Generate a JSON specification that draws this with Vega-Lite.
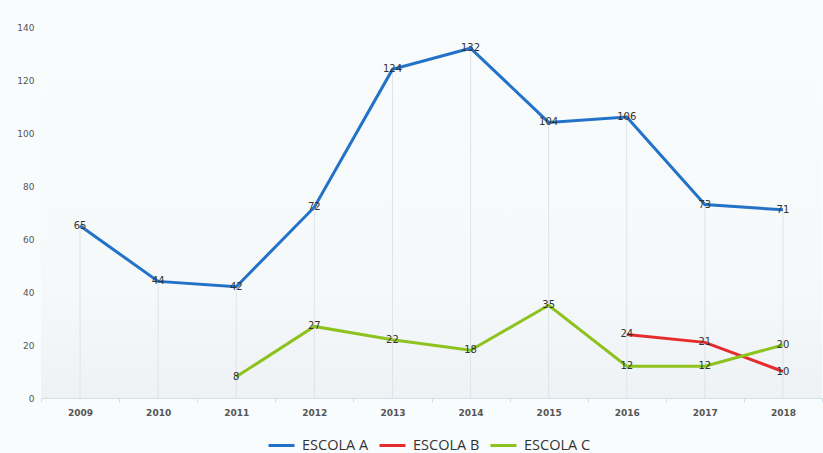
{
  "$schema": "https://vega.github.io/schema/vega-lite/v6.json",
  "autosize": {"type": "none"},
  "width": 781,
  "height": 371,
  "padding": {"left": 41, "top": 27, "right": 1, "bottom": 55},
  "background": "#f9fcfd",
  "config": {
    "view": {"stroke": null, "fill": {"gradient": "linear", "x1": 0, "y1": 0, "x2": 0, "y2": 1, "stops": [{"offset": 0, "color": "#f9fcfd"}, {"offset": 0.7, "color": "#f6f9fa"}, {"offset": 1, "color": "#eef2f5"}]}},
    "font": "DejaVu Sans"
  },
  "data": {
    "values": [
      {"ano": "2009", "escola": "ESCOLA A", "v": 65},
      {"ano": "2010", "escola": "ESCOLA A", "v": 44},
      {"ano": "2011", "escola": "ESCOLA A", "v": 42},
      {"ano": "2012", "escola": "ESCOLA A", "v": 72},
      {"ano": "2013", "escola": "ESCOLA A", "v": 124},
      {"ano": "2014", "escola": "ESCOLA A", "v": 132},
      {"ano": "2015", "escola": "ESCOLA A", "v": 104},
      {"ano": "2016", "escola": "ESCOLA A", "v": 106},
      {"ano": "2017", "escola": "ESCOLA A", "v": 73},
      {"ano": "2018", "escola": "ESCOLA A", "v": 71},
      {"ano": "2016", "escola": "ESCOLA B", "v": 24},
      {"ano": "2017", "escola": "ESCOLA B", "v": 21},
      {"ano": "2018", "escola": "ESCOLA B", "v": 10},
      {"ano": "2011", "escola": "ESCOLA C", "v": 8},
      {"ano": "2012", "escola": "ESCOLA C", "v": 27},
      {"ano": "2013", "escola": "ESCOLA C", "v": 22},
      {"ano": "2014", "escola": "ESCOLA C", "v": 18},
      {"ano": "2015", "escola": "ESCOLA C", "v": 35},
      {"ano": "2016", "escola": "ESCOLA C", "v": 12},
      {"ano": "2017", "escola": "ESCOLA C", "v": 12},
      {"ano": "2018", "escola": "ESCOLA C", "v": 20}
    ]
  },
  "encoding": {
    "x": {
      "field": "ano", "type": "ordinal", "bandPosition": 0.5,
      "scale": {"type": "band", "paddingInner": 0, "paddingOuter": 0},
      "axis": {"title": null, "labelAngle": 0, "labelFontSize": 9, "labelFontWeight": "bold", "labelColor": "#555555", "labelPadding": 6, "domainColor": "#d3e0e6", "tickColor": "#d3e0e6", "tickBand": "extent", "tickSize": 4, "grid": false}
    }
  },
  "layer": [
    {
      "mark": {"type": "rule", "color": "#dde3e8", "strokeWidth": 1},
      "encoding": {
        "y": {"aggregate": "max", "field": "v", "type": "quantitative"},
        "y2": {"datum": 0}
      }
    },
    {
      "mark": {"type": "line", "strokeWidth": 3},
      "encoding": {
        "y": {"field": "v", "type": "quantitative", "scale": {"domain": [0, 140]},
          "axis": {"title": null, "values": [0, 20, 40, 60, 80, 100, 120, 140], "grid": false, "domain": false, "ticks": false, "labelFontSize": 9, "labelColor": "#555555", "labelPadding": 7}},
        "color": {"field": "escola", "type": "nominal",
          "scale": {"domain": ["ESCOLA A", "ESCOLA B", "ESCOLA C"], "range": ["#2272c8", "#e62b2b", "#8ec21f"]},
          "legend": {"title": null, "orient": "none", "legendX": 226, "legendY": 404, "direction": "horizontal", "symbolType": "stroke", "symbolSize": 676, "symbolStrokeWidth": 3, "labelFontSize": 14.5, "labelFont": "Open Sans", "labelColor": "#333333", "labelOffset": 6, "columnPadding": 4}
        }
      }
    },
    {
      "mark": {"type": "text", "fontSize": 10, "color": "#333333", "baseline": "middle", "align": "center"},
      "encoding": {
        "y": {"field": "v", "type": "quantitative"},
        "text": {"field": "v", "type": "quantitative"}
      }
    }
  ]
}
